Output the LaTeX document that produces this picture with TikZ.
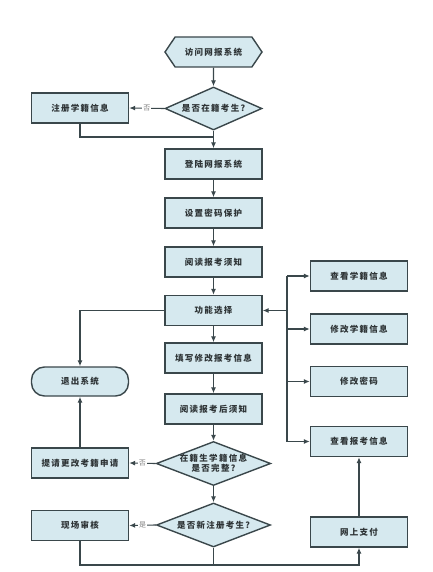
\documentclass[tikz,border=0pt]{standalone}
\usepackage{fontspec}
\newfontfamily\cjk[LetterSpace=15]{Noto Sans CJK SC}
\usetikzlibrary{shapes.geometric,shapes.symbols,arrows.meta}
\definecolor{boxfill}{HTML}{D6E9EF}
\definecolor{boxline}{HTML}{3A474B}
\definecolor{txt}{HTML}{2E3436}
\begin{document}
\begin{tikzpicture}[x=1pt,y=-1pt,
  base/.style={draw=boxline,fill=boxfill,line width=1.4pt,font=\cjk\bfseries\fontsize{8.5}{10}\selectfont,text=txt,inner sep=0pt},
  stepbox/.style={base,rectangle,minimum width=97pt,minimum height=30pt},
  decide/.style={base,diamond,minimum width=114pt,minimum height=44pt,aspect=2.6},
  term/.style={base,rectangle,rounded corners=13pt,minimum width=97pt,minimum height=29pt},
  hexa/.style={base,signal,signal to=west and east,signal pointer angle=112,minimum width=97pt,minimum height=30pt},
  conn/.style={draw=boxline,line width=1.1pt},
  arr/.style={conn,-{Latex[length=6pt,width=5pt]}},
  lab/.style={fill=white,inner sep=1pt,font=\cjk\fontsize{7}{8}\selectfont,text=gray}]
\useasboundingbox (0,0) rectangle (432,572);
\node[hexa] (start) at (213.5,52) {访问网报系统};
\node[decide,minimum width=97pt,minimum height=43pt] (d1) at (213.5,108.5) {是否在籍考生?};
\node[stepbox] (reg) at (80,108) {注册学籍信息};
\node[stepbox] (login) at (213.5,164) {登陆网报系统};
\node[stepbox] (pwd) at (213.5,213) {设置密码保护};
\node[stepbox] (read) at (213.5,262) {阅读报考须知};
\node[stepbox] (func) at (213.5,310.5) {功能选择};
\node[stepbox] (fill) at (213.5,358) {填写修改报考信息};
\node[stepbox] (after) at (213.5,409) {阅读报考后须知};
\node[decide,align=center] (d2) at (213.5,463.5) {在籍生学籍信息\\是否完整?};
\node[decide] (d3) at (213.5,525) {是否新注册考生?};
\node[term] (exit) at (80,381.5) {退出系统};
\node[stepbox] (req) at (80,463) {提请更改考籍申请};
\node[stepbox] (site) at (80,525.5) {现场审核};
\node[stepbox] (r1) at (359,276) {查看学籍信息};
\node[stepbox] (r2) at (359,329) {修改学籍信息};
\node[stepbox] (r3) at (359,381.5) {修改密码};
\node[stepbox] (r4) at (359,441.5) {查看报考信息};
\node[stepbox] (pay) at (359,532) {网上支付};
\coordinate (bus) at (287,310.5);
\coordinate (mid1) at (213.5,137);
\coordinate (low) at (213.5,565);
% main chain
\draw[arr] (start) -- (d1);
\draw[arr] (d1.west) -- node[lab]{否} (reg.east);
\draw[conn] (reg.south) |- (mid1);
\draw[arr] (d1.south) -- (login.north);
\draw[arr] (login) -- (pwd);
\draw[arr] (pwd) -- (read);
\draw[arr] (read) -- (func);
\draw[arr] (func) -- (fill);
\draw[arr] (fill) -- (after);
\draw[arr] (after.south) -- (d2.north);
\draw[arr] (d2.south) -- (d3.north);
\draw[arr] (d2.west) -- node[lab]{否} (req.east);
\draw[arr] (d3.west) -- node[lab]{是} (site.east);
\draw[arr] (req.north) -- (exit.south);
\draw[arr] (func.west) -| (exit.north);
% bus on right
\draw[conn] (bus |- r1) -- (bus |- r4);
\draw[arr] (bus) -- (func.east);
\draw[arr] (bus |- r1) -- (r1.west);
\draw[arr] (bus |- r2) -- (r2.west);
\draw[arr] (bus |- r3) -- (r3.west);
\draw[arr] (bus |- r4) -- (r4.west);
% bottom
\draw[arr] (site.south) |- (low) -| (pay.south);
\draw[conn] (d3.south) -- (low);
\draw[arr] (pay.north) -- (r4.south);
\end{tikzpicture}
\end{document}
